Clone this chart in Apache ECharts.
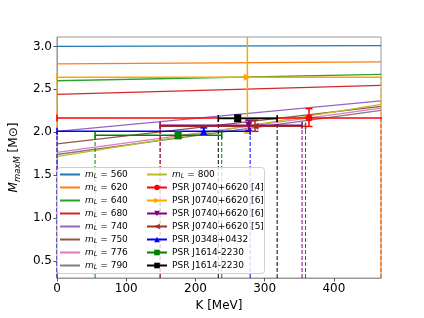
<!DOCTYPE html>
<html><head><meta charset="utf-8">
<script src="https://cdn.jsdelivr.net/npm/echarts@6/dist/echarts.min.js"></script>
<style>html,body{margin:0;padding:0;background:#fff}#c{width:424px;height:318px}</style>
</head><body><div id="c"></div>
<script>
// axis ranges and ticks
const xMin = 0, xMax = 468, yMin = 0.3, yMax = 3.11;
const xTicks = [0, 100, 200, 300, 400];
const yTicks = [0.5, 1.0, 1.5, 2.0, 2.5, 3.0];

// m_L curves: value of M at K = 0 and at K = xMax
const mL = [560, 620, 640, 680, 740, 750, 776, 790, 800];
const mLColors = ['#1f77b4','#ff7f0e','#2ca02c','#d62728','#9467bd','#8c564b','#e377c2','#7f7f7f','#bcbd22'];
const mLStart = [3.00, 2.797, 2.60, 2.44, 2.01, 1.863, 1.765, 1.74, 1.715];
const mLEnd   = [3.01, 2.82, 2.675, 2.546, 2.365, 2.30, 2.28, 2.255, 2.325];

// pulsar measurements
const psrLabels = ['PSR J0740+6620 [4]','PSR J0740+6620 [6]','PSR J0740+6620 [6]','PSR J0740+6620 [5]','PSR J0348+0432','PSR J1614-2230','PSR J1614-2230'];
const psrColors = ['#ff0000','#ffa500','#800080','#a52a2a','#0000ff','#008000','#000000'];
const psrSymbols = ['circle','triangle','triangle','triangle','triangle','rect','rect'];
const psrRotate = [0, -90, 180, 90, 0, 0, 0];
const psrK   = [364, 275, 277, 286, 212, 175, 261];
const psrM   = [2.165, 2.64, 2.08, 2.07, 2.01, 1.965, 2.16];
const psrMlo = [2.067, 1.99, 2.02, 2.01, 1.97, 1.925, 2.125];
const psrMhi = [2.275, 3.6, 2.14, 2.14, 2.05, 2.005, 2.20];
const psrKlo = [0, 0, 149, 149, 0, 55, 233];
const psrKhi = [480, 480, 354, 359, 279, 238, 318];
// dashed vertical guide lines (K positions) per pulsar
const psrDashK = [[468], [0, 468], [149, 354], [149, 359], [0, 279], [55, 238], [233, 318]];

const FONT = 'DejaVu Sans';
const series = [];

mL.forEach((v, i) => {
  series.push({
    type: 'line', name: 'mL' + v, symbol: 'none', silent: true, z: 2,
    color: mLColors[i],
    lineStyle: { width: 1.3, color: mLColors[i] },
    data: [[xMin, mLStart[i]], [xMax, mLEnd[i]]]
  });
});

psrLabels.forEach((lab, i) => {
  psrDashK[i].forEach(k => {
    series.push({
      type: 'line', symbol: 'none', silent: true, z: 3,
      lineStyle: { width: 1, color: psrColors[i], type: [4, 2] },
      data: [[k, yMin], [k, psrM[i]]]
    });
  });
  series.push({
    type: 'custom', silent: true, clip: true, z: 4,
    color: psrColors[i],
    data: [[psrK[i], psrM[i], psrKlo[i], psrKhi[i], psrMlo[i], psrMhi[i]]],
    renderItem: function (params, api) {
      const p = api.coord([api.value(0), api.value(1)]);
      const pl = api.coord([api.value(2), api.value(1)]);
      const ph = api.coord([api.value(3), api.value(1)]);
      const ql = api.coord([api.value(0), api.value(4)]);
      const qh = api.coord([api.value(0), api.value(5)]);
      const c = api.visual('color');
      const st = { stroke: c, lineWidth: 1.5 };
      const cap = 3.5;
      const L = (x1, y1, x2, y2) => ({ type: 'line', shape: { x1, y1, x2, y2 }, style: st });
      return {
        type: 'group',
        children: [
          L(pl[0], p[1], ph[0], p[1]),
          L(pl[0], p[1] - cap, pl[0], p[1] + cap),
          L(ph[0], p[1] - cap, ph[0], p[1] + cap),
          L(p[0], ql[1], p[0], qh[1]),
          L(p[0] - cap, ql[1], p[0] + cap, ql[1]),
          L(p[0] - cap, qh[1], p[0] + cap, qh[1])
        ]
      };
    }
  });
  series.push({
    type: 'line', name: 'psr' + i, z: 5, silent: true,
    color: psrColors[i],
    symbol: psrSymbols[i], symbolSize: 7, symbolRotate: psrRotate[i],
    showSymbol: true,
    itemStyle: { color: psrColors[i] },
    lineStyle: { width: 1.5, color: psrColors[i] },
    data: [[psrK[i], psrM[i]]]
  });
});

const legendFmt = function (name) {
  if (name.indexOf('mL') === 0) return '{i|m}{s|L}{t| = ' + name.slice(2) + '}';
  return '{t|' + psrLabels[+name.slice(3)] + '}';
};
const legendText = {
  fontFamily: FONT, fontSize: 9, color: '#000', lineHeight: 11,
  rich: {
    i: { fontFamily: FONT, fontSize: 9, fontStyle: 'italic', color: '#000', lineHeight: 11 },
    s: { fontFamily: FONT, fontSize: 6.5, fontStyle: 'italic', color: '#000', verticalAlign: 'bottom', lineHeight: 11 },
    t: { fontFamily: FONT, fontSize: 9, color: '#000', lineHeight: 11 }
  }
};
const legendCommon = {
  orient: 'vertical', itemWidth: 20, itemHeight: 7, itemGap: 2, padding: 0,
  textStyle: legendText, formatter: legendFmt, selectedMode: false, z: 10
};
const mLItem = v => ({ name: 'mL' + v, itemStyle: { opacity: 0 } });

const option = {
  animation: false,
  backgroundColor: '#fff',
  grid: { left: 53, right: 43, top: 37, bottom: 40, show: true, borderColor: '#999', borderWidth: 1 },
  xAxis: {
    type: 'value', min: xMin, max: xMax,
    name: 'K [MeV]', nameLocation: 'middle', nameGap: 15,
    nameTextStyle: { fontFamily: FONT, fontSize: 12, color: '#000' },
    axisLine: { show: true, lineStyle: { color: '#999' } },
    axisTick: { show: true, length: 3.5, lineStyle: { color: '#555' }, customValues: xTicks },
    axisLabel: { fontFamily: FONT, fontSize: 12, color: '#000', margin: 5, customValues: xTicks },
    splitLine: { show: false }
  },
  yAxis: {
    type: 'value', min: yMin, max: yMax,
    name: '{i|M}{s|maxM}{t| [M⊙]}', nameLocation: 'middle', nameGap: 27,
    nameTextStyle: {
      fontFamily: FONT, fontSize: 12, color: '#000',
      rich: {
        i: { fontFamily: FONT, fontSize: 12, fontStyle: 'italic', color: '#000', lineHeight: 16 },
        s: { fontFamily: FONT, fontSize: 8.5, fontStyle: 'italic', color: '#000', verticalAlign: 'bottom', lineHeight: 16 },
        t: { fontFamily: FONT, fontSize: 12, color: '#000', lineHeight: 16 }
      }
    },
    axisLine: { show: true, lineStyle: { color: '#999' } },
    axisTick: { show: true, length: 3.5, lineStyle: { color: '#555' }, customValues: yTicks },
    axisLabel: { fontFamily: FONT, fontSize: 12, color: '#000', margin: 5, customValues: yTicks, formatter: v => v.toFixed(1) },
    splitLine: { show: false }
  },
  graphic: [{
    type: 'rect', left: 57, top: 167, z: 9,
    shape: { width: 207, height: 106, r: 3 },
    style: { fill: 'rgba(255,255,255,0.8)', stroke: '#d0d0d0', lineWidth: 1 }
  }],
  legend: [
    Object.assign({}, legendCommon, { left: 59, top: 169, data: mL.slice(0, 8).map(mLItem) }),
    Object.assign({}, legendCommon, { left: 146, top: 169, data: [mLItem(800)].concat(psrLabels.map((l, i) => 'psr' + i)) })
  ],
  series: series
};
const chart = echarts.init(document.getElementById('c'), null, { renderer: 'canvas' });
chart.setOption(option);
</script>
</body></html>
